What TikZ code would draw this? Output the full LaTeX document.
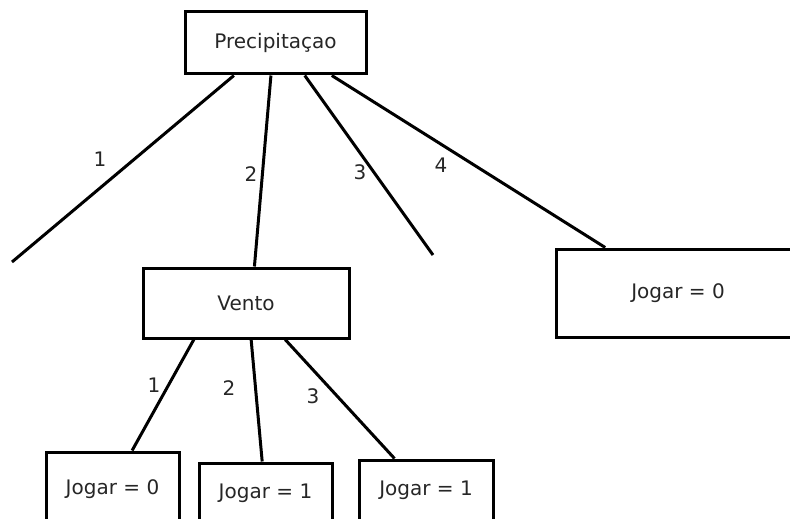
\documentclass[tikz,border=0pt]{standalone}
\usepackage{fontspec}
\setmainfont{DejaVu Sans}
\usepackage{tikz}
\tikzstyle{box}=[draw, rectangle, inner sep=0pt, text=black!85]
\tikzstyle{lbl}=[inner sep=0pt, text=black!85]

\begin{document}
\begin{tikzpicture}[x=1pt, y=-1pt, line width=3pt, font=\fontsize{20}{24}\selectfont]
    \useasboundingbox (0,0) rectangle (790,519);
% Boxes
    \node[box, minimum width=181pt, minimum height=62pt] (prec) at (275.5,43) {Precipitaçao};
    \node[box, minimum width=206pt, minimum height=70pt] (vento) at (246,303) {Vento};
    \node[box, minimum width=244pt, minimum height=88pt] (jog4) at (678,293) {Jogar = 0};
    \node[box, minimum width=133pt, minimum height=74pt] (jog1) at (112.5,489) {Jogar = 0};
    \node[box, minimum width=133pt, minimum height=60pt] (jog2) at (265.5,493) {Jogar = 1};
    \node[box, minimum width=134pt, minimum height=60pt] (jog3) at (426,490) {Jogar = 1};
% Free ends
    \coordinate (end1) at (12,262);
    \coordinate (end3) at (433,255);
% Branches of Precipitacao
    \draw (prec.-142) -- (end1);
    \draw (prec.-98) -- (vento.77);
    \draw (prec.-48) -- (end3);
    \draw (prec.-30) -- (jog4.148.6);
% Branches of Vento
    \draw (vento.-145) -- (jog1.63.4);
    \draw (vento.-82) -- (jog2.96.7);
    \draw (vento.-43.4) -- (jog3.135);
% Labels
    \node[lbl] (p1) at (100,159) {1};
    \node[lbl] (p2) at (251,174) {2};
    \node[lbl] (p3) at (360,172) {3};
    \node[lbl] (p4) at (441,165) {4};
    \node[lbl] (v1) at (154,385) {1};
    \node[lbl] (v2) at (229,388) {2};
    \node[lbl] (v3) at (313,396) {3};
\end{tikzpicture}
\end{document}
